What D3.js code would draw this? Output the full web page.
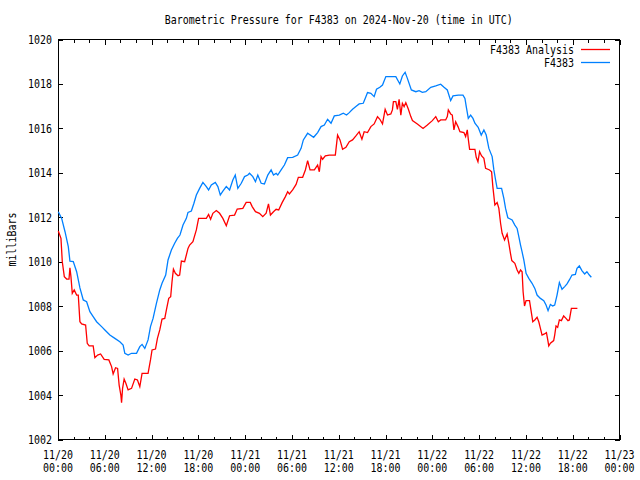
<!DOCTYPE html>
<html><head><meta charset="utf-8">
<script src="https://cdn.jsdelivr.net/npm/d3@7/dist/d3.min.js"></script>
<style>
body{margin:0;background:#fff}
text{font-family:"DejaVu Sans Mono","Liberation Mono",monospace;font-size:12px;fill:#000}
</style>
</head><body>
<svg id="chart" width="640" height="480"></svg>
<script>
// ---- data (hours since 2024-11-20 00:00 UTC, pressure in mb) ----
const startTime = "2024-11-20T00:00:00Z";
const titleText = "Barometric Pressure for F4383 on 2024-Nov-20 (time in UTC)";
const yLabelText = "milliBars";
const seriesNames = ["F4383 Analysis", "F4383"];
const yTicks = [1002,1004,1006,1008,1010,1012,1014,1016,1018,1020];

const analysisHours = [0.04,0.38,0.55,0.81,1.11,1.41,1.53,1.66,1.83,2.08,2.39,2.60,2.81,3.03,3.54,3.75,4.00,4.51,4.73,5.08,5.46,5.92,6.52,6.87,7.07,7.38,7.64,7.84,8.06,8.15,8.28,8.48,8.70,8.99,9.43,9.85,10.19,10.49,10.78,11.55,11.86,12.06,12.50,12.75,13.05,13.34,13.69,13.90,14.20,14.45,14.62,14.80,15.05,15.39,15.60,15.82,16.24,16.67,16.88,17.30,17.74,18.03,19.02,19.31,19.57,19.86,20.30,20.72,21.14,21.58,22.00,22.64,22.98,23.70,24.13,24.65,24.90,25.32,25.83,26.26,26.69,26.99,27.24,27.63,27.97,28.30,28.74,29.16,29.45,29.67,30.09,30.53,30.82,31.37,31.72,32.01,32.32,32.87,33.29,33.51,33.73,33.93,34.28,34.79,35.56,35.85,36.16,36.49,36.92,37.35,37.77,38.20,38.62,38.97,39.26,39.69,40.12,40.54,40.97,41.27,41.61,41.95,42.25,42.68,42.88,43.01,43.32,43.52,43.74,43.96,44.16,44.38,44.60,44.93,45.24,45.45,46.08,46.81,47.36,48.00,48.44,48.77,49.07,49.71,49.92,50.05,50.35,50.56,50.77,50.99,51.29,51.54,52.05,52.27,52.48,52.60,52.78,53.46,53.63,53.85,54.06,54.32,54.61,54.83,55.34,55.60,55.76,56.02,56.31,56.53,56.75,56.95,57.26,57.59,57.81,58.03,58.19,58.58,58.87,59.09,59.31,59.51,59.64,59.82,60.02,60.46,60.66,60.88,61.14,61.43,61.65,61.86,62.07,62.38,62.63,62.80,62.93,63.14,63.56,63.69,63.86,64.07,64.29,64.55,64.84,65.14,65.39,65.57,65.83,66.60];
const analysisMb = [1011.38,1011.05,1010.00,1009.33,1009.22,1009.22,1009.73,1009.33,1008.58,1008.73,1008.50,1008.50,1007.30,1007.20,1007.15,1006.33,1006.21,1006.21,1005.68,1005.80,1005.85,1005.61,1005.58,1005.28,1004.95,1005.23,1005.20,1004.45,1004.00,1003.66,1004.30,1004.72,1004.53,1004.23,1004.30,1004.72,1004.68,1004.38,1004.98,1004.98,1005.58,1006.03,1006.07,1006.55,1006.93,1007.42,1007.45,1007.83,1008.35,1008.43,1009.10,1009.67,1009.48,1009.37,1009.40,1010.03,1010.00,1010.60,1010.75,1010.90,1011.43,1011.95,1011.95,1012.13,1011.91,1012.18,1012.30,1012.18,1011.95,1011.62,1012.07,1012.10,1012.37,1012.40,1012.67,1012.67,1012.48,1012.25,1012.18,1012.03,1012.18,1012.60,1012.10,1012.25,1012.36,1012.33,1012.66,1012.93,1013.15,1013.05,1013.23,1013.48,1013.80,1013.80,1014.13,1014.55,1014.13,1014.13,1014.35,1014.05,1014.73,1014.61,1014.76,1014.80,1014.80,1015.70,1015.48,1015.06,1015.15,1015.40,1015.48,1015.66,1015.85,1015.51,1015.85,1015.81,1016.08,1016.20,1016.53,1016.41,1016.20,1016.86,1016.60,1016.65,1016.83,1017.20,1017.20,1016.86,1017.31,1016.60,1017.13,1016.98,1017.16,1016.86,1016.53,1016.35,1016.20,1016.00,1016.15,1016.35,1016.53,1016.30,1016.38,1016.38,1016.53,1016.83,1016.65,1016.60,1015.93,1016.30,1016.08,1015.85,1015.81,1015.63,1015.93,1015.55,1015.06,1015.06,1014.70,1014.50,1014.95,1014.76,1014.65,1014.20,1014.13,1014.05,1013.38,1012.55,1012.66,1012.40,1011.73,1011.28,1010.98,1011.25,1010.83,1010.35,1010.05,1009.93,1009.63,1009.48,1009.63,1009.55,1008.65,1008.01,1008.25,1008.25,1007.80,1007.30,1007.38,1007.50,1007.30,1007.00,1006.70,1006.75,1006.81,1006.48,1006.21,1006.33,1006.45,1006.70,1007.11,1007.05,1007.38,1007.35,1007.56,1007.45,1007.35,1007.38,1007.90,1007.90];

const stationHours = [0.04,0.47,0.90,1.32,1.53,1.96,2.39,2.81,3.24,3.67,4.09,4.51,4.95,5.59,6.01,6.65,7.29,7.93,8.35,8.57,8.99,9.43,10.07,10.49,10.78,11.13,11.55,11.86,12.19,12.62,13.05,13.34,13.81,14.11,14.54,14.96,15.31,15.64,16.03,16.46,16.67,17.10,17.43,17.74,18.16,18.58,19.02,19.31,19.66,20.17,20.50,20.81,21.14,21.58,22.00,22.42,22.73,23.06,23.50,23.92,24.34,24.56,24.98,25.32,25.62,26.05,26.47,26.90,27.33,27.63,27.97,28.18,28.61,29.03,29.45,30.09,30.73,31.17,31.46,32.01,32.78,33.29,33.73,34.15,34.57,35.01,35.43,36.07,36.58,37.00,37.35,37.77,38.20,38.62,39.14,39.39,39.69,40.12,40.54,40.84,41.27,41.61,42.04,42.68,43.32,43.83,44.16,44.51,44.80,45.31,45.88,46.30,46.72,47.16,47.80,48.44,49.07,49.50,49.92,50.35,50.65,51.33,51.93,52.18,52.35,52.61,52.91,53.21,53.46,53.88,54.27,54.61,54.91,55.25,55.67,55.89,56.11,56.31,56.88,57.17,57.39,57.68,58.23,58.58,58.87,59.09,59.31,59.51,59.73,59.95,60.02,60.37,60.79,61.14,61.43,61.86,62.29,62.58,62.84,63.14,63.44,63.69,63.99,64.29,64.63,64.97,65.27,65.57,65.91,66.34,66.55,66.85,67.18,67.53,67.82,68.13,68.39];
const stationMb = [1012.25,1011.95,1011.35,1010.68,1010.03,1010.01,1009.55,1008.82,1008.28,1008.20,1007.75,1007.53,1007.30,1007.08,1006.93,1006.70,1006.55,1006.40,1006.25,1005.88,1005.80,1005.88,1005.88,1006.18,1006.28,1006.10,1006.48,1007.08,1007.45,1008.13,1008.73,1009.03,1009.40,1010.08,1010.53,1010.83,1011.05,1011.20,1011.65,1011.95,1012.22,1012.28,1012.63,1013.00,1013.30,1013.57,1013.38,1013.23,1013.45,1013.57,1013.38,1013.00,1013.18,1013.38,1013.23,1013.68,1013.90,1013.30,1013.53,1013.83,1013.90,1013.98,1013.83,1013.60,1013.90,1013.53,1013.50,1013.90,1014.13,1013.90,1013.98,1013.90,1014.13,1014.35,1014.68,1014.70,1014.80,1015.10,1015.48,1015.78,1015.60,1015.81,1016.08,1016.15,1016.41,1016.23,1016.56,1016.60,1016.68,1016.60,1016.71,1016.86,1016.98,1017.10,1017.13,1017.35,1017.61,1017.58,1017.43,1017.76,1017.85,1017.95,1018.33,1018.33,1018.33,1018.00,1018.36,1018.52,1018.25,1017.73,1017.65,1017.70,1017.62,1017.65,1017.85,1017.91,1017.99,1017.85,1017.73,1017.25,1017.46,1017.50,1017.50,1017.35,1016.98,1016.45,1016.60,1016.45,1016.23,1016.05,1015.70,1015.93,1015.70,1015.10,1014.73,1014.13,1013.68,1013.30,1013.30,1012.85,1012.40,1011.98,1011.88,1011.65,1011.50,1011.13,1010.75,1010.44,1010.08,1009.63,1009.48,1009.25,1009.03,1008.80,1008.50,1008.35,1008.25,1008.05,1007.80,1008.08,1008.01,1008.05,1008.50,1009.06,1008.76,1008.88,1009.00,1009.18,1009.40,1009.43,1009.70,1009.81,1009.60,1009.45,1009.55,1009.40,1009.30];

// ---- layout ----
const W = 640, H = 480;
const margin = {left: 58, right: 20.5, top: 39.5, bottom: 40.5};
const colors = ["#ff0000", "#0080ff"];
const charW = 6;

const svg = d3.select("#chart");
const t0 = new Date(startTime);
const toDate = h => new Date(t0.getTime() + h * 3600e3);
const tEnd = d3.utcHour.offset(t0, 72);

const x = d3.scaleUtc().domain([t0, tEnd]).range([margin.left, W - margin.right]);
const y = d3.scaleLinear().domain([1002, 1020]).range([H - margin.bottom, margin.top]);

function fitText(sel) {
  sel.each(function () {
    const s = d3.select(this).text();
    d3.select(this).attr("textLength", s.length * charW).attr("lengthAdjust", "spacingAndGlyphs");
  });
}

// title
svg.append("text").attr("x", (margin.left + W - margin.right) / 2).attr("y", 24)
  .attr("text-anchor", "middle").text(titleText).call(fitText);

// y label
svg.append("text").attr("transform", `translate(16,${(margin.top + H - margin.bottom) / 2}) rotate(-90)`)
  .attr("text-anchor", "middle").text(yLabelText).call(fitText);

const majorTicks = d3.utcHour.every(6).range(t0, d3.utcHour.offset(tEnd, 1));
const minorTicks = d3.utcHour.every(2).range(t0, d3.utcHour.offset(tEnd, 1)).filter(d => d.getUTCHours() % 6 !== 0);

const axisG = svg.append("g").attr("shape-rendering", "crispEdges");
axisG.append("g").attr("transform", `translate(0,${H - margin.bottom})`)
  .call(d3.axisBottom(x).tickValues(majorTicks).tickSize(-5).tickSizeOuter(0).tickFormat(""))
  .call(g => g.select(".domain").remove());
axisG.append("g").attr("transform", `translate(0,${H - margin.bottom})`)
  .call(d3.axisBottom(x).tickValues(minorTicks).tickSize(-3).tickSizeOuter(0).tickFormat(""))
  .call(g => g.select(".domain").remove());
axisG.append("g").attr("transform", `translate(0,${margin.top})`)
  .call(d3.axisTop(x).tickValues(majorTicks).tickSize(-5).tickSizeOuter(0).tickFormat(""))
  .call(g => g.select(".domain").remove());
axisG.append("g").attr("transform", `translate(0,${margin.top})`)
  .call(d3.axisTop(x).tickValues(minorTicks).tickSize(-3).tickSizeOuter(0).tickFormat(""))
  .call(g => g.select(".domain").remove());
axisG.append("g").attr("transform", `translate(${margin.left},0)`)
  .call(d3.axisLeft(y).tickValues(yTicks).tickSize(-5).tickSizeOuter(0).tickFormat(""))
  .call(g => g.select(".domain").remove());
axisG.append("g").attr("transform", `translate(${W - margin.right},0)`)
  .call(d3.axisRight(y).tickValues(yTicks).tickSize(-5).tickSizeOuter(0).tickFormat(""))
  .call(g => g.select(".domain").remove());
axisG.selectAll("line").attr("stroke", "#000");

// y tick labels
const fmtY = d3.format("d");
svg.append("g").selectAll("text").data(yTicks).join("text")
  .attr("x", 52).attr("y", d => y(d) + 4.5).attr("text-anchor", "end")
  .text(d => fmtY(d)).call(fitText);

// x tick labels (two lines)
const fmtDay = d3.utcFormat("%m/%d"), fmtHr = d3.utcFormat("%H:%M");
const xl = svg.append("g").selectAll("g").data(majorTicks).join("g");
xl.append("text").attr("x", d => x(d)).attr("y", 458.5).attr("text-anchor", "middle").text(d => fmtDay(d)).call(fitText);
xl.append("text").attr("x", d => x(d)).attr("y", 471.5).attr("text-anchor", "middle").text(d => fmtHr(d)).call(fitText);

// frame
svg.append("rect").attr("x", margin.left).attr("y", margin.top)
  .attr("width", W - margin.left - margin.right).attr("height", H - margin.top - margin.bottom)
  .attr("fill", "none").attr("stroke", "#000").attr("shape-rendering", "crispEdges");

// series
const line = d3.line().x(d => x(toDate(d[0]))).y(d => y(d[1]));
const series = [
  d3.zip(analysisHours, analysisMb),
  d3.zip(stationHours, stationMb)
];
series.forEach((s, i) => {
  svg.append("path").datum(s).attr("d", line).attr("fill", "none")
    .attr("stroke", colors[i]).attr("stroke-width", 1.3).attr("stroke-linejoin", "miter");
});

// legend
const legend = svg.append("g");
seriesNames.forEach((name, i) => {
  const ly = 49.5 + i * 13;
  legend.append("text").attr("x", 574).attr("y", ly + 4.5).attr("text-anchor", "end").text(name).call(fitText);
  legend.append("line").attr("x1", 581).attr("x2", 610).attr("y1", ly).attr("y2", ly)
    .attr("stroke", colors[i]).attr("stroke-width", 1.3);
});
</script>
</body></html>
